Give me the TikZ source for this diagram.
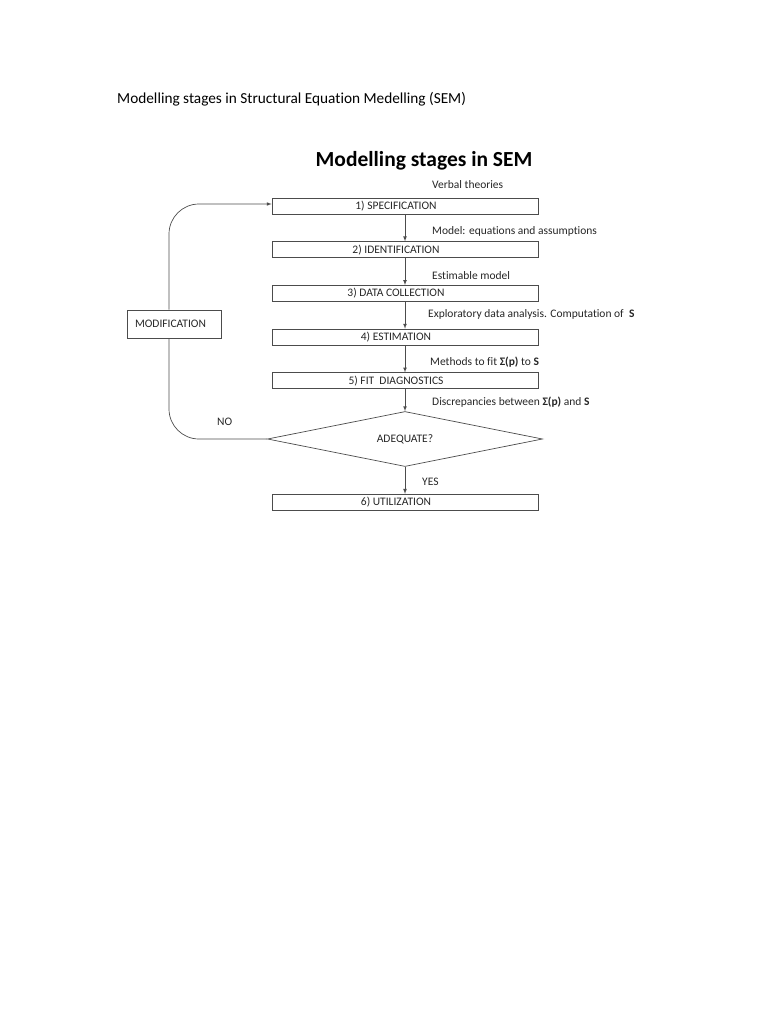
\documentclass[tikz,border=0pt]{standalone}
\usepackage{fontspec}
\setmainfont{Carlito}[Ligatures={NoCommon}]
\usetikzlibrary{arrows,shapes.geometric,positioning}
\tikzset{
  basic/.style  = {draw=black!70, line width=0.7pt, text=black!85,
                   font=\fontsize{11.5}{13}\selectfont},
  stage/.style  = {basic, rectangle, minimum width=266pt, minimum height=16pt,
                   inner sep=0pt, execute at end node={\hspace*{18pt}}},
  decide/.style = {basic, diamond, aspect=5, minimum width=275pt,
                   minimum height=55pt, inner sep=0pt},
  modbox/.style = {basic, rectangle, minimum height=28pt, text width=78pt,
                   inner xsep=8pt, align=left},
  lbl/.style    = {anchor=base west, inner sep=0pt, text=black!85,
                   font=\fontsize{11.5}{13}\selectfont},
  conn/.style   = {draw=black!70, line width=0.7pt}
}

\begin{document}
\begin{tikzpicture}[x=1pt, y=-1pt, >=latex, node distance=27pt]
\useasboundingbox (0,0) rectangle (768,1024);

% titles
\node[anchor=base west, inner sep=0pt, font=\fontsize{15.3}{18}\selectfont]
  (pagetitle) at (117,104) {Modelling stages in Structural Equation Medelling (SEM)};
\node[anchor=base, inner sep=0pt, font=\bfseries\fontsize{21.5}{25}\selectfont]
  (semtitle) at (424,167) {Modelling stages in SEM};

% stages, one below the other
\node[stage] (spec) at (405,206) {1) SPECIFICATION};
\node[stage, below=of spec] (ident) {2) IDENTIFICATION};
\node[stage, below=of ident] (data) {3) DATA COLLECTION};
\node[stage, below=of data] (estim) {4) ESTIMATION};
\node[stage, below=of estim] (fit) {5) FIT\ \ DIAGNOSTICS};
\node[decide, below=22pt of fit] (adq) {ADEQUATE?};
\node[stage, below=27pt of adq] (util) {6) UTILIZATION};

\node[modbox] (mod) at (174,324) {MODIFICATION};

% texts beside the arrows
\node[lbl] (lverb) at (432,188.5) {Verbal theories};
\node[lbl] (lmodel) at (432,235) {Model: equations and assumptions};
\node[lbl] (lestim) at (432,279) {Estimable model};
\node[lbl] (lexpl) at (428,317) {Exploratory data analysis. Computation of\ \ \textbf{S}};
\node[lbl] (lmeth) at (430,365) {Methods to fit \textbf{Σ(p)} to \textbf{S}};
\node[lbl] (ldisc) at (432,405) {Discrepancies between \textbf{Σ(p)} and \textbf{S}};
\node[lbl] (lno) at (217,425.5) {NO};
\node[lbl] (lyes) at (422,485.5) {YES};

% arrows down the stages
\foreach \a/\b in {spec/ident,ident/data,data/estim,estim/fit,fit/adq,adq/util}
  \draw[conn,->] (\a) -- (\b);

% loop back through modification
\draw[conn, rounded corners=30pt] (adq.west) -| ([xshift=-5pt]mod.south);
\draw[conn, ->, rounded corners=30pt] ([xshift=-5pt]mod.north) |- ([yshift=2pt]spec.west);
\end{tikzpicture}
\end{document}
